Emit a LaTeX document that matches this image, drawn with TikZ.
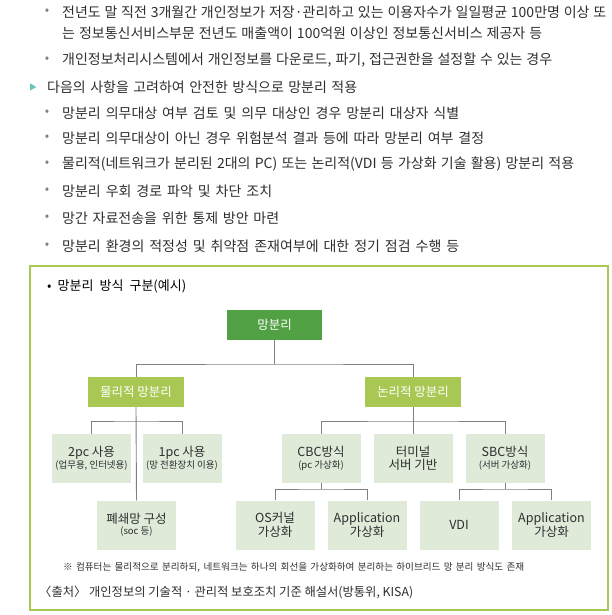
\documentclass[tikz,border=0pt]{standalone}
\usepackage{fontspec}
\setmainfont{Noto Sans CJK KR}
\definecolor{gDark}{HTML}{52A044}
\definecolor{gMid}{HTML}{A8C853}
\definecolor{gPale}{HTML}{DFEAD8}
\definecolor{gLine}{HTML}{808080}
\definecolor{gText}{HTML}{2E2E2E}
\definecolor{gTeal}{HTML}{6CC3B9}
\usetikzlibrary{positioning}
\newcommand{\subtxt}{\fontsize{9.5}{10}\selectfont}
\newcommand{\fitline}[2]{\makebox[#1][s]{#2}}

\begin{document}
\begin{tikzpicture}[x=1pt, y=-1pt,
  txt/.style={anchor=west, inner sep=0pt, text=gText, font=\fontsize{14}{16}\selectfont},
  dot/.style={inner sep=0pt, text=gLine, font=\fontsize{13}{14}\selectfont},
  rootbox/.style={fill=gDark, text=white, minimum width=95pt, minimum height=30pt, inner sep=0pt, font=\fontsize{12.5}{13}\selectfont},
  midbox/.style={fill=gMid, text=white, minimum width=96pt, minimum height=30pt, inner sep=0pt, font=\fontsize{12.5}{13}\selectfont},
  leafbox/.style={fill=gPale, text=gText, minimum width=79pt, minimum height=49pt, inner sep=0pt, align=center, font=\fontsize{12.5}{13.5}\selectfont},
  link/.style={draw=gLine, line width=0.9pt}]
  \useasboundingbox (0,0) rectangle (611,615);
  % text above the chart
  \node[dot] (b1) at (47,12) {•};
  \node[txt] (l1) at (62,12) {\fitline{544pt}{전년도 말 직전 3개월간 개인정보가 저장·관리하고 있는 이용자수가 일일평균 100만명 이상 또}};
  \node[txt] (l2) at (62,33) {\fitline{480pt}{는 정보통신서비스부문 전년도 매출액이 100억원 이상인 정보통신서비스 제공자 등}};
  \node[dot] (b3) at (47,60) {•};
  \node[txt] (l3) at (62,60) {\fitline{490pt}{개인정보처리시스템에서 개인정보를 다운로드, 파기, 접근권한을 설정할 수 있는 경우}};
  \node[inner sep=0pt, text=gTeal, font=\fontsize{8}{9}\selectfont] (t4) at (33,87) {▶};
  \node[txt] (l4) at (47,87) {\fitline{310pt}{다음의 사항을 고려하여 안전한 방식으로 망분리 적용}};
  \node[dot] (b5) at (47,113) {•};
  \node[txt] (l5) at (62,113) {\fitline{397pt}{망분리 의무대상 여부 검토 및 의무 대상인 경우 망분리 대상자 식별}};
  \node[dot] (b6) at (47,138) {•};
  \node[txt] (l6) at (62,138) {\fitline{422pt}{망분리 의무대상이 아닌 경우 위험분석 결과 등에 따라 망분리 여부 결정}};
  \node[dot] (b7) at (47,164) {•};
  \node[txt] (l7) at (62,164) {\fitline{512pt}{물리적(네트워크가 분리된 2대의 PC) 또는 논리적(VDI 등 가상화 기술 활용) 망분리 적용}};
  \node[dot] (b8) at (47,191) {•};
  \node[txt] (l8) at (62,191) {\fitline{210pt}{망분리 우회 경로 파악 및 차단 조치}};
  \node[dot] (b9) at (47,218) {•};
  \node[txt] (l9) at (62,218) {\fitline{217pt}{망간 자료전송을 위한 통제 방안 마련}};
  \node[dot] (b10) at (47,246) {•};
  \node[txt] (l10) at (62,246) {\fitline{397pt}{망분리 환경의 적정성 및 취약점 존재여부에 대한 정기 점검 수행 등}};
  % frame
  \draw[gMid, line width=1.2pt] (30,266) rectangle (608,610);
  \node[txt, text=black, font=\fontsize{13}{14}\selectfont] (title) at (47,286) {\fitline{139pt}{• 망분리 방식 구분(예시)}};
  % tree
  \node[rootbox] (root) at (274.5,325) {망분리};
  \node[midbox] (phys) at (136,392) {물리적 망분리};
  \node[midbox] (logic) at (413,392) {논리적 망분리};
  \node[leafbox] (pc2) at (91.5,458.5) {2pc 사용\\[-2pt]{\subtxt (업무용, 인터넷용)}};
  \node[leafbox] (pc1) at (182,458.5) {1pc 사용\\[-2pt]{\subtxt (망 전환장치 이용)}};
  \node[leafbox] (closed) at (136.5,525) {폐쇄망 구성\\[-2pt]{\subtxt (soc 등)}};
  \node[leafbox] (cbc) at (321,458.5) {CBC방식\\[-2pt]{\subtxt (pc 가상화)}};
  \node[leafbox] (term) at (413,458.5) {터미널\\서버 기반};
  \node[leafbox] (sbc) at (505,458.5) {SBC방식\\[-2pt]{\subtxt (서버 가상화)}};
  \node[leafbox] (os) at (275,525) {OS커널\\가상화};
  \node[leafbox] (app1) at (367,525) {Application\\가상화};
  \node[leafbox] (vdi) at (459,525) {VDI};
  \node[leafbox] (app2) at (551.5,525) {Application\\가상화};
  % joints
  \coordinate (j1) at (274.5,364);
  \coordinate (j2) at (136.5,421);
  \coordinate (j3) at (413,421);
  \coordinate (j4) at (321,489);
  \coordinate (j5) at (505,489);
  \draw[link] (root.south) -- (j1);
  \draw[link] (phys.north) |- (j1) -| (logic.north);
  \draw[link] (phys.south) -- (closed.north);
  \draw[link] (pc2.north) |- (j2) -| (pc1.north);
  \draw[link] (logic.south) -- (term.north);
  \draw[link] (cbc.north) |- (j3) -| (sbc.north);
  \draw[link] (cbc.south) -- (j4);
  \draw[link] (os.north) |- (j4) -| (app1.north);
  \draw[link] (sbc.south) -- (j5);
  \draw[link] (vdi.north) |- (j5) -| (app2.north);
  % notes
  \node[txt, font=\fontsize{9.6}{10}\selectfont] (note) at (63,567) {\fitline{461pt}{※ 컴퓨터는 물리적으로 분리하되, 네트워크는 하나의 회선을 가상화하여 분리하는 하이브리드 망 분리 방식도 존재}};
  \node[txt, font=\fontsize{12.3}{13}\selectfont] (src) at (39,592) {\fitline{374pt}{〈출처〉 개인정보의 기술적 · 관리적 보호조치 기준 해설서(방통위, KISA)}};
\end{tikzpicture}
\end{document}
